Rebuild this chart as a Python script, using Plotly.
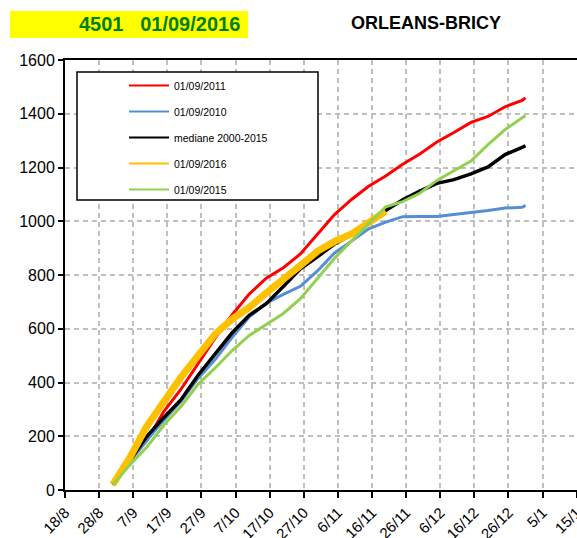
import plotly.graph_objects as go

# ---- data ----
dates = ["2016-09-01", "2016-09-06", "2016-09-11", "2016-09-16", "2016-09-21", "2016-09-26",
         "2016-10-01", "2016-10-06", "2016-10-11", "2016-10-16", "2016-10-21", "2016-10-26",
         "2016-10-31", "2016-11-05", "2016-11-10", "2016-11-15", "2016-11-20", "2016-11-25",
         "2016-11-30", "2016-12-05", "2016-12-10", "2016-12-15", "2016-12-20", "2016-12-25",
         "2016-12-30", "2016-12-31"]

s2011 = [20, 110, 185, 293, 375, 472, 565, 652, 729, 788, 827, 878, 950, 1025, 1081, 1130,
         1168, 1212, 1250, 1295, 1330, 1368, 1390, 1426, 1450, 1459]
s2010 = [20, 105, 185, 260, 330, 415, 485, 568, 644, 695, 728, 758, 815, 882, 926, 972,
         997, 1017, 1018, 1018, 1025, 1032, 1040, 1049, 1052, 1059]
median = [20, 108, 200, 270, 336, 427, 505, 585, 650, 693, 757, 823, 868, 915, 950, 990,
          1040, 1080, 1112, 1141, 1155, 1176, 1202, 1248, 1275, 1281]
s2016 = [20, 120, 238, 331, 420, 500, 580, 636, 679, 733, 781, 835, 888, 925, 953, 993, 1037]
s2015 = [20, 93, 160, 242, 311, 393, 454, 519, 575, 615, 657, 712, 785, 862, 927, 991,
         1054, 1073, 1104, 1152, 1187, 1224, 1285, 1341, 1385, 1393]

series_names = ["01/09/2011", "01/09/2010", "mediane 2000-2015", "01/09/2016", "01/09/2015"]
series_values = [s2011, s2010, median, s2016, s2015]
series_colors = ["#ff0000", "#558ed5", "#000000", "#ffc000", "#92d050"]
series_widths = [3, 3, 3.5, 7, 3]

y_ticks = [0, 200, 400, 600, 800, 1000, 1200, 1400, 1600]

FONT = "Arial, Liberation Sans, sans-serif"

fig = go.Figure()
for i, (name, vals, col, w) in enumerate(zip(series_names, series_values, series_colors, series_widths)):
    fig.add_trace(go.Scatter(
        x=dates[:len(vals)], y=vals, mode="lines", name=name,
        line=dict(color=col, width=w), showlegend=False,
    ))
# legend entries with thin sample lines, as in the reference
for i, (name, col) in enumerate(zip(series_names, series_colors)):
    fig.add_trace(go.Scatter(
        x=[None], y=[None], mode="lines", name=name,
        line=dict(color=col, width=2), legendgroup=f"g{i}", showlegend=True,
    ))

W, H = 577, 538
L, R, T, B = 65, 0, 60, 48
pw, ph = W - L - R, H - T - B


def px(x):
    return (x - L) / pw


def py(y):
    return (H - B - y) / ph


fig.update_layout(
    width=W, height=H,
    margin=dict(l=L, r=R, t=T, b=B, autoexpand=False),
    paper_bgcolor="white", plot_bgcolor="white",
    font=dict(family=FONT, color="black"),
    showlegend=True,
    legend=dict(
        x=px(124), y=py(71), xanchor="left", yanchor="top",
        bgcolor="rgba(0,0,0,0)", borderwidth=0,
        font=dict(size=10.5, family=FONT),
        tracegroupgap=7, itemwidth=40,
    ),
    xaxis=dict(
        type="date", automargin=False,
        range=["2016-08-18", "2017-01-15 02:00"],
        tick0="2016-08-18", dtick=10 * 86400000,
        tickformat="%-d/%-m", tickangle=-45,
        tickfont=dict(size=15, family=FONT), ticklabeloverflow="allow",
        showgrid=True, gridcolor="#bfbfbf", gridwidth=1.5, griddash="5px,4px",
        showline=True, linecolor="black", linewidth=2, mirror=True,
        ticks="outside", ticklen=6, tickcolor="black", tickwidth=1.5,
        zeroline=False,
    ),
    yaxis=dict(
        range=[0, 1600], tickvals=y_ticks, automargin=False,
        tickfont=dict(size=16, family=FONT),
        showgrid=True, gridcolor="#bfbfbf", gridwidth=1.5, griddash="5px,4px",
        showline=True, linecolor="black", linewidth=2,
        ticks="outside", ticklen=5, tickcolor="black", tickwidth=1.5,
        zeroline=False,
    ),
    shapes=[
        # legend frame
        dict(type="rect", xref="paper", yref="paper",
             x0=px(77), x1=px(318), y0=py(200), y1=py(72),
             line=dict(color="black", width=1.5), fillcolor="white", layer="above"),
        # yellow title box
        dict(type="rect", xref="paper", yref="paper",
             x0=px(10), x1=px(248), y0=py(38), y1=py(11),
             line=dict(width=0), fillcolor="#ffff00", layer="above"),
    ],
    annotations=[
        dict(text="<b>4501   01/09/2016</b>", xref="paper", yref="paper",
             x=px(242), y=py(24.5), xanchor="right", yanchor="middle",
             showarrow=False, font=dict(size=20, color="#008000", family=FONT)),
        dict(text="<b>ORLEANS-BRICY</b>", xref="paper", yref="paper",
             x=px(426), y=py(23), xanchor="center", yanchor="middle",
             showarrow=False, font=dict(size=18, color="black", family=FONT)),
    ],
)

fig.write_html("out.html", config={"displayModeBar": False},
               post_script="document.body.style.margin='0';")
